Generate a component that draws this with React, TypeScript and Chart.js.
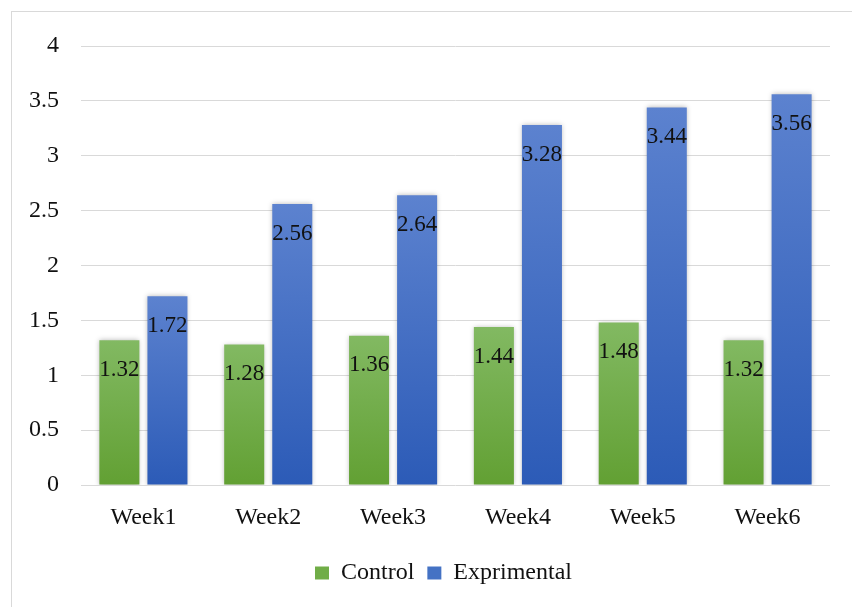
import React, { useEffect, useRef } from "react";
import { Chart, registerables } from "chart.js";

Chart.register(...registerables);

const categories = ["Week1", "Week2", "Week3", "Week4", "Week5", "Week6"];
const controlValues = [1.32, 1.28, 1.36, 1.44, 1.48, 1.32];
const experimentalValues = [1.72, 2.56, 2.64, 3.28, 3.44, 3.56];
const seriesNames = ["Control", "Exprimental"];
const yMin = 0;
const yMax = 4;
const yStep = 0.5;

const FONT = "'Liberation Serif', 'Times New Roman', serif";

const greenTop = "#82b962";
const greenBottom = "#62a033";
const blueTop = "#5c82cf";
const blueBottom = "#2c5bb7";
const greenSolid = "#70ad47";
const blueSolid = "#4472c4";

const gradient = (top: string, bottom: string) => (ctx: any) => {
  const chart = ctx.chart;
  const area = chart.chartArea;
  if (!area || ctx.type !== "data") return bottom;
  const y = chart.scales.y;
  const yTop = y.getPixelForValue(ctx.raw as number);
  const yBase = y.getPixelForValue(0);
  const g = chart.ctx.createLinearGradient(0, yTop, 0, yBase);
  g.addColorStop(0, top);
  g.addColorStop(1, bottom);
  return g;
};

const shadowPlugin = {
  id: "barShadow",
  beforeDatasetsDraw(chart: any) {
    const c = chart.ctx;
    c.save();
    c.shadowColor = "rgba(0,0,0,0.28)";
    c.shadowBlur = 5;
    c.shadowOffsetX = 0;
    c.shadowOffsetY = 0;
  },
  afterDatasetsDraw(chart: any) {
    chart.ctx.restore();
  },
};

const labelPlugin = {
  id: "valueLabels",
  afterDatasetsDraw(chart: any) {
    const c = chart.ctx;
    c.save();
    c.font = `23px ${FONT}`;
    c.fillStyle = "#111";
    c.textAlign = "center";
    c.textBaseline = "middle";
    chart.data.datasets.forEach((ds: any, di: number) => {
      const meta = chart.getDatasetMeta(di);
      meta.data.forEach((bar: any, i: number) => {
        const v = ds.data[i] as number;
        c.fillText(v.toFixed(2), bar.x, bar.y + 29.5);
      });
    });
    c.restore();
  },
};

// shift the centred legend slightly right, as in the reference
const legendShift = {
  id: "legendShift",
  afterLayout(chart: any) {
    const lg = chart.legend;
    if (lg) {
      lg.left += 16;
      lg.right += 16;
    }
  },
};

export default function App() {
  const ref = useRef<HTMLCanvasElement | null>(null);

  useEffect(() => {
    document.body.style.margin = "0";
    const canvas = ref.current;
    if (!canvas) return;
    const chart = new Chart(canvas, {
      type: "bar",
      data: {
        labels: categories,
        datasets: [
          {
            label: seriesNames[0],
            data: controlValues,
            backgroundColor: gradient(greenTop, greenBottom),
            borderWidth: 0,
            categoryPercentage: 0.77,
            barPercentage: 0.833,
          },
          {
            label: seriesNames[1],
            data: experimentalValues,
            backgroundColor: gradient(blueTop, blueBottom),
            borderWidth: 0,
            categoryPercentage: 0.77,
            barPercentage: 0.833,
          },
        ],
      },
      options: {
        animation: false,
        responsive: false,
        devicePixelRatio: 1,
        layout: { padding: { left: 25, right: 22, top: 46, bottom: 12 } },
        scales: {
          x: {
            grid: { display: false, drawTicks: false },
            border: { display: false },
            ticks: { font: { family: FONT, size: 24 }, color: "#111", padding: 18 },
            afterFit: (s: any) => {
              s.height = 63;
            },
          },
          y: {
            min: yMin,
            max: yMax,
            ticks: {
              stepSize: yStep,
              font: { family: FONT, size: 24 },
              color: "#111",
              padding: 22,
              callback: (v: any) => `${Number(v)}`,
            },
            grid: { color: "#d9d9d9", lineWidth: 1, drawTicks: false },
            border: { display: false },
            afterFit: (s: any) => {
              s.width = 56;
            },
          },
        },
        plugins: {
          tooltip: { enabled: false },
          legend: {
            position: "bottom",
            labels: {
              font: { family: FONT, size: 24 },
              color: "#111",
              boxWidth: 14,
              boxHeight: 13,
              padding: 13,
              generateLabels: () =>
                seriesNames.map((n, i) => ({
                  text: n,
                  fillStyle: i === 0 ? greenSolid : blueSolid,
                  strokeStyle: i === 0 ? greenSolid : blueSolid,
                  lineWidth: 0,
                  hidden: false,
                  datasetIndex: i,
                  fontColor: "#111",
                })),
            },
          },
        },
      },
      plugins: [shadowPlugin, labelPlugin, legendShift],
    });
    return () => chart.destroy();
  }, []);

  return (
    <div
      style={{
        position: "absolute",
        left: 0,
        top: 0,
        width: 852,
        height: 607,
        overflow: "hidden",
        background: "#fff",
      }}
    >
      <div
        style={{
          position: "absolute",
          left: 11,
          top: 11,
          width: 900,
          height: 700,
          border: "1px solid #d9d9d9",
          boxSizing: "border-box",
        }}
      />
      <canvas ref={ref} width={852} height={607} style={{ position: "absolute", left: 0, top: 0 }} />
    </div>
  );
}
